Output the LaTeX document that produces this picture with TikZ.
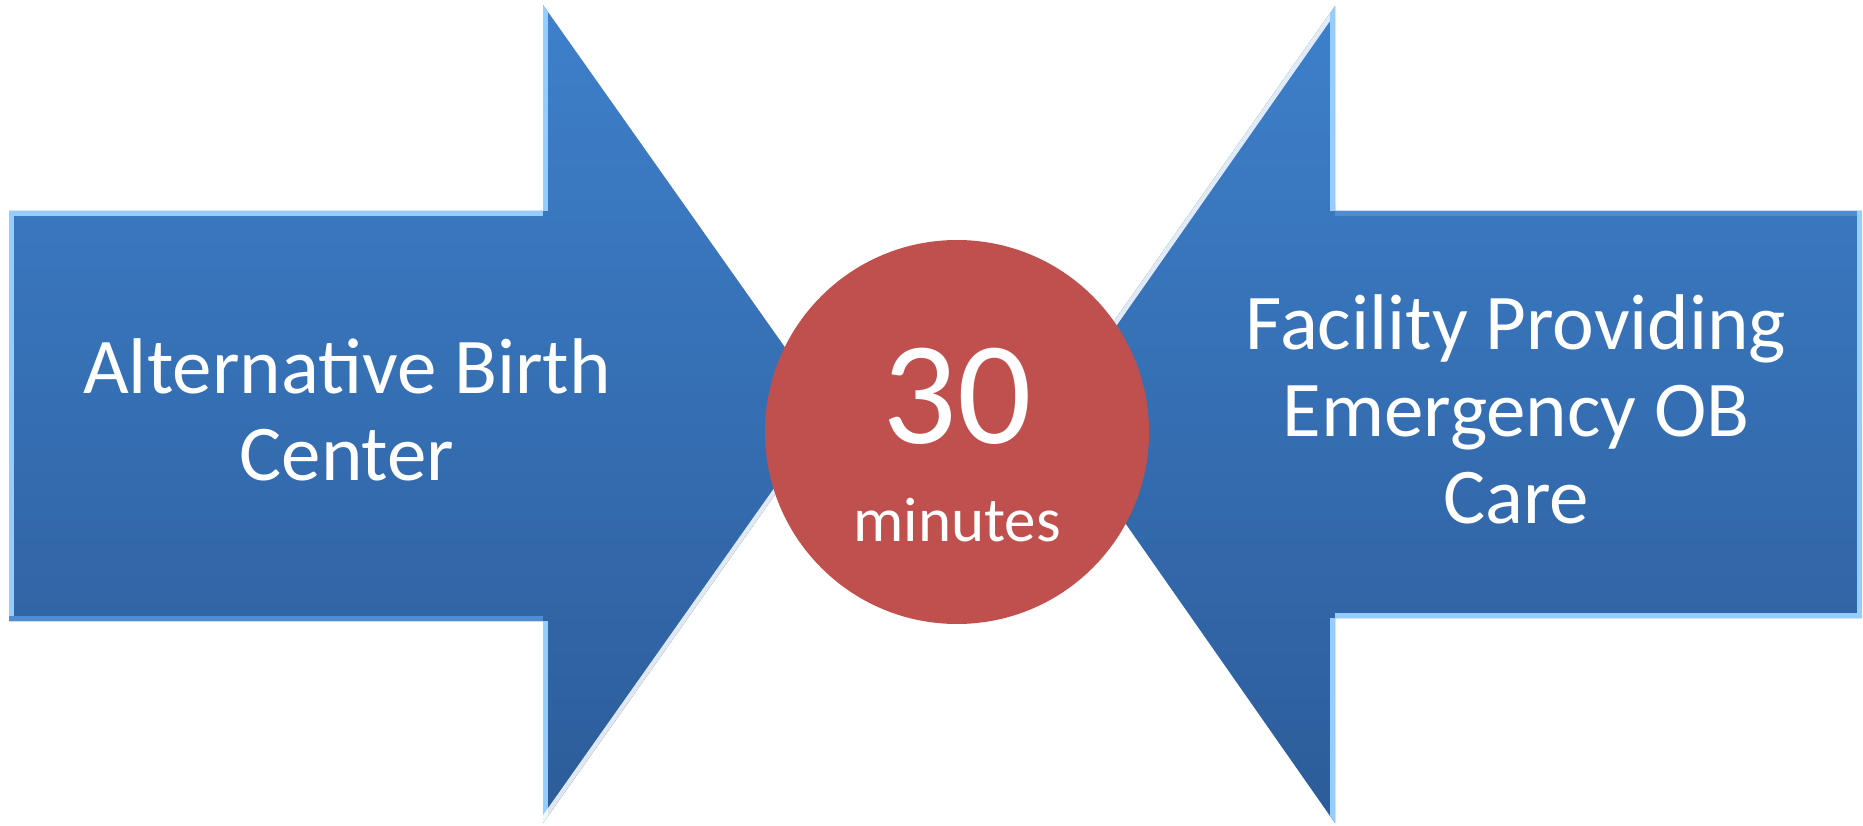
\documentclass[tikz,border=0pt]{standalone}
\usepackage{fontspec}
\setmainfont{Carlito}
\definecolor{arrowtop}{RGB}{62,128,203}
\definecolor{arrowbot}{RGB}{44,92,153}
\definecolor{bevellight}{RGB}{150,205,255}
\definecolor{bevelmid}{RGB}{80,140,210}
\definecolor{discred}{RGB}{192,80,77}
\tikzset{
  arrowfill/.style={top color=arrowtop, bottom color=arrowbot},
  shadowfill/.style={fill=black, opacity=0.18},
  lightedge/.style={draw=bevellight, line width=10pt},
  midedge/.style={draw=bevelmid, line width=10pt},
  whiteedge/.style={draw=white, line width=9pt, opacity=0.85},
  label/.style={text=white, align=center, inner sep=0pt},
  bigtext/.style={font=\fontsize{79}{87}\selectfont},
}
\begin{document}
\begin{tikzpicture}[x=1pt,y=-1pt]
\useasboundingbox (0,0) rectangle (1863,826);
% left arrow corners
\coordinate (L1) at (9,211);
\coordinate (L2) at (543,211);
\coordinate (L3) at (543,5);
\coordinate (L4) at (832,414);
\coordinate (L5) at (543,823);
\coordinate (L6) at (543,621);
\coordinate (L7) at (9,621);
% right arrow corners
\coordinate (R1) at (1862,211);
\coordinate (R2) at (1335,211);
\coordinate (R3) at (1335,6);
\coordinate (R4) at (1049,414);
\coordinate (R5) at (1335,823);
\coordinate (R6) at (1335,618);
\coordinate (R7) at (1862,618);
% shadows
\fill[shadowfill, shift={(2,5)}] (L1) -- (L2) -- (L3) -- (L4) -- (L5) -- (L6) -- (L7) -- cycle;
\fill[shadowfill, shift={(-2,5)}] (R1) -- (R2) -- (R3) -- (R4) -- (R5) -- (R6) -- (R7) -- cycle;
% left arrow
\shade[arrowfill] (L1) -- (L2) -- (L3) -- (L4) -- (L5) -- (L6) -- (L7) -- cycle;
\begin{scope}
  \clip (L1) -- (L2) -- (L3) -- (L4) -- (L5) -- (L6) -- (L7) -- cycle;
  \draw[lightedge] (L1) -- (L2);
  \draw[lightedge] (L1) -- (L7);
  \draw[lightedge] (L2) -- (L3);
  \draw[lightedge] (L6) -- (L5);
  \draw[midedge] (L7) -- (L6);
  \draw[whiteedge] (L4) -- (L5);
\end{scope}
% right arrow
\shade[arrowfill] (R1) -- (R2) -- (R3) -- (R4) -- (R5) -- (R6) -- (R7) -- cycle;
\begin{scope}
  \clip (R1) -- (R2) -- (R3) -- (R4) -- (R5) -- (R6) -- (R7) -- cycle;
  \draw[midedge] (R2) -- (R1);
  \draw[whiteedge] (R3) -- (R4);
  \draw[lightedge] (R2) -- (R3);
  \draw[lightedge] (R6) -- (R5);
  \draw[lightedge] (R1) -- (R7);
  \draw[lightedge] (R6) -- (R7);
\end{scope}
% central disc
\node[circle, fill=discred, minimum size=384pt, inner sep=0pt] (disc) at (957,432) {};
\node[label, anchor=base, font=\fontsize{147}{147}\selectfont] (num) at (957,443) {30};
\node[label, anchor=base, font=\fontsize{63}{63}\selectfont] (unit) at (957,541) {minutes};
% arrow labels (base anchor = baseline of the last line)
\node[label, bigtext, anchor=base] (lefttext) at (347,480) {Alternative Birth\\Center};
\node[label, bigtext, anchor=base] (righttext) at (1516,523) {Facility Providing\\Emergency OB\\Care};
\end{tikzpicture}
\end{document}
